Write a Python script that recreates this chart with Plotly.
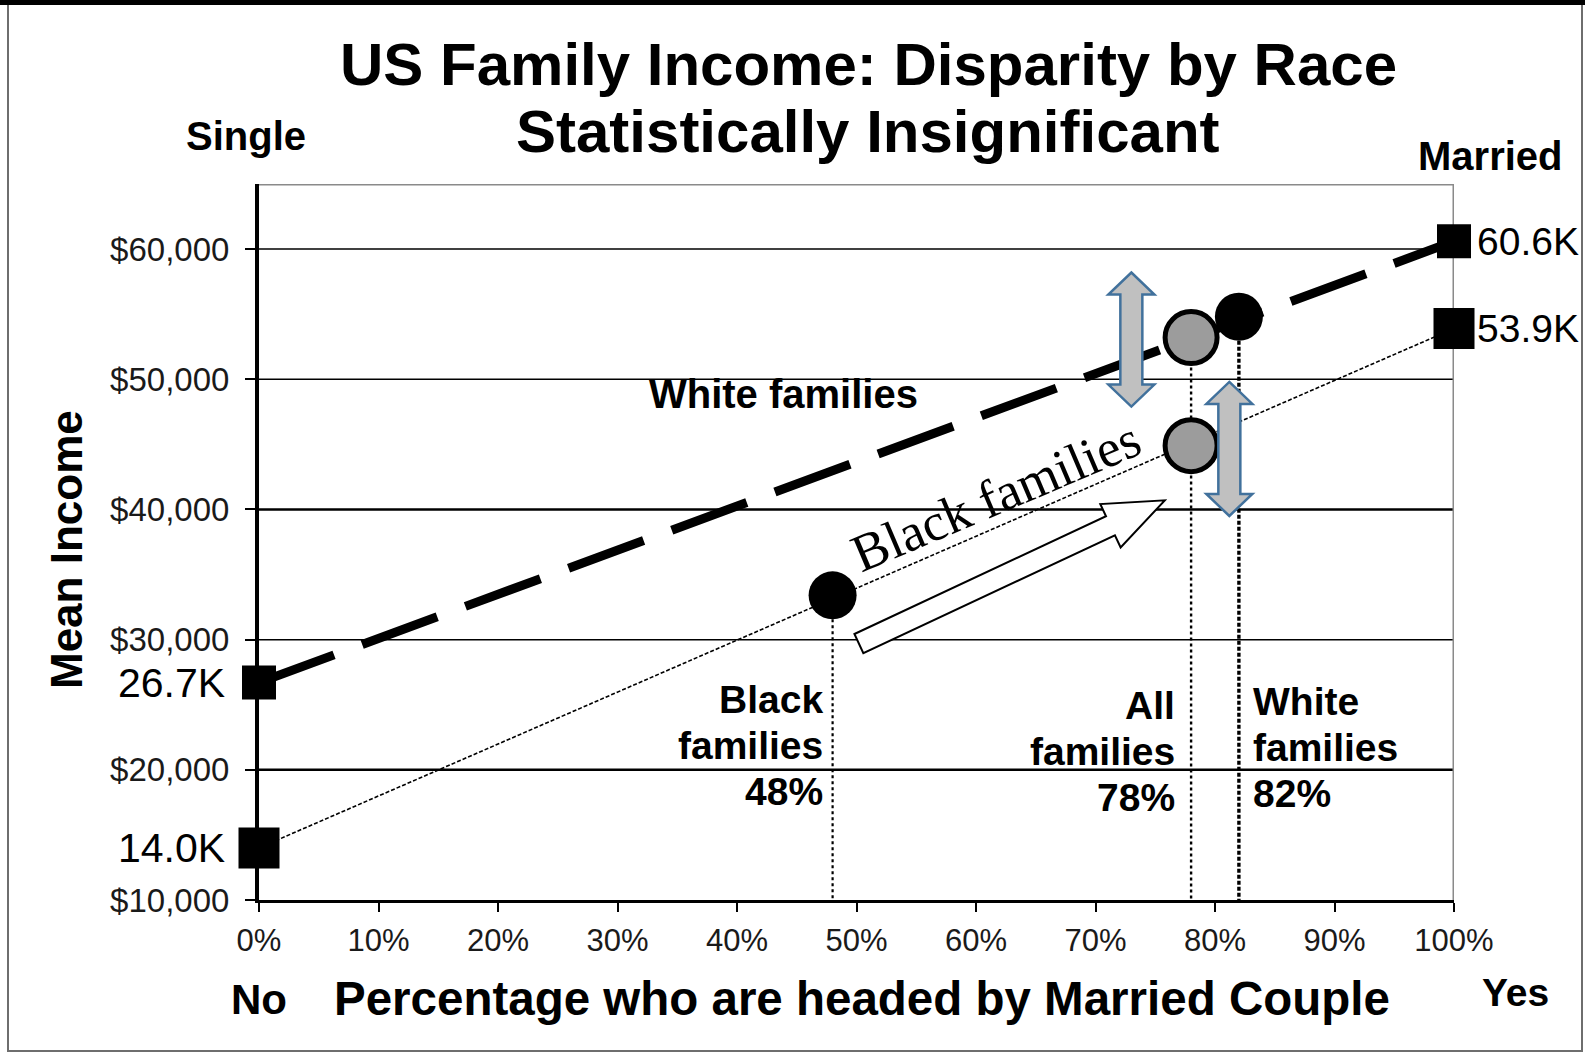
import math
import plotly.graph_objects as go

# ---------------------------------------------------------------- data
# Mean family income at 0% and 100% married-couple share, by race
share_ends = [0, 100]
white_income_ends = [26700, 60600]
black_income_ends = [14000, 53900]

# Married-couple share of each group (%)
group_names = ["Black", "All", "White"]
group_share = [48, 78, 82]

# Group points sitting on the Black-families line (Black, All)
black_pts_x = [48, 78]
black_pts_y = [33400, 44900]
# Group points sitting on the White-families line (All, White)
white_pts_x = [78, 82]
white_pts_y = [53200, 54800]

# Axes
y_ticks = [10000, 20000, 30000, 40000, 50000, 60000]
x_ticks = [0, 10, 20, 30, 40, 50, 60, 70, 80, 90, 100]
y_range = [10000, 65000]
x_range = [0, 100]

# ---------------------------------------------------------------- geometry
W, H = 1585, 1053
ML, MR, MT, MB = 259, 131, 184, 153
PW, PH = W - ML - MR, H - MT - MB
SX = (x_range[1] - x_range[0]) / PW      # data units per pixel (x)
SY = (y_range[1] - y_range[0]) / PH      # data units per pixel (y)


def px(xp):
    return (xp - ML) / PW


def py(yp):
    return (H - MB - yp) / PH


def to_pix(x, y):
    return ML + (x - x_range[0]) / SX, MT + (y_range[1] - y) / SY


def to_data(X, Y):
    return x_range[0] + (X - ML) * SX, y_range[1] - (Y - MT) * SY


SANS = "Liberation Sans, Arial, sans-serif"
SERIF = "Liberation Serif, Times New Roman, serif"

fig = go.Figure()

# dotted drop lines from each group's point to the x axis
drop_tops = [black_pts_y[0], white_pts_y[0], white_pts_y[1]]
drop_styles = [("3px,3px", 2.2), ("3px,3px", 2.4), ("4px,2px", 3.4)]
for xv, top, (dash, wd) in zip(group_share, drop_tops, drop_styles):
    fig.add_trace(go.Scatter(
        x=[xv, xv], y=[top, y_range[0]], mode="lines",
        line=dict(color="black", width=wd, dash=dash),
        hoverinfo="skip", showlegend=False, cliponaxis=False))

# Black families line (thin, short dashes)
fig.add_trace(go.Scatter(
    x=share_ends, y=black_income_ends, mode="lines",
    line=dict(color="black", width=1.6, dash="4px,2px"),
    showlegend=False, cliponaxis=False))

# White families line (heavy, long dashes)
fig.add_trace(go.Scatter(
    x=share_ends, y=white_income_ends, mode="lines",
    line=dict(color="black", width=9, dash="80px,30px"),
    showlegend=False, cliponaxis=False))

# end squares
fig.add_trace(go.Scatter(
    x=share_ends, y=white_income_ends, mode="markers",
    marker=dict(symbol="square", size=34, color="black"),
    showlegend=False, cliponaxis=False))
fig.add_trace(go.Scatter(
    x=share_ends, y=black_income_ends, mode="markers",
    marker=dict(symbol="square", size=41, color="black"),
    showlegend=False, cliponaxis=False))

# group points: black dots for Black / White, grey dots for All families
fig.add_trace(go.Scatter(
    x=[black_pts_x[0], white_pts_x[1]], y=[black_pts_y[0], white_pts_y[1]],
    mode="markers", marker=dict(size=48, color="black"),
    showlegend=False, cliponaxis=False))
fig.add_trace(go.Scatter(
    x=[black_pts_x[1], white_pts_x[0]], y=[black_pts_y[1], white_pts_y[0]],
    mode="markers",
    marker=dict(size=52, color="#9c9c9c", line=dict(color="black", width=5)),
    showlegend=False, cliponaxis=False))

# ---------------------------------------------------------------- shapes
shapes = []

# horizontal gridlines
grid_width = {20000: 2.4, 40000: 2.4}
for v in y_ticks[1:]:
    shapes.append(dict(type="line", xref="x", yref="y", x0=x_range[0], x1=x_range[1],
                       y0=v, y1=v, layer="below",
                       line=dict(color="black", width=grid_width.get(v, 1.5))))

# grey top and right frame of the plot area
shapes.append(dict(type="line", xref="x", yref="y", x0=x_range[0], x1=x_range[1],
                   y0=y_range[1], y1=y_range[1], layer="below",
                   line=dict(color="#8a8a8a", width=3)))
shapes.append(dict(type="line", xref="x", yref="y", x0=x_range[1], x1=x_range[1],
                   y0=y_range[0], y1=y_range[1], layer="below",
                   line=dict(color="#8a8a8a", width=3)))

# outer picture frame
shapes.append(dict(type="rect", xref="paper", yref="paper",
                   x0=px(8), x1=px(1582), y0=py(1051), y1=py(4), layer="below",
                   line=dict(color="#6e6e6e", width=2), fillcolor="rgba(0,0,0,0)"))
shapes.append(dict(type="rect", xref="paper", yref="paper",
                   x0=px(0), x1=px(W), y0=py(5), y1=py(0), layer="above",
                   line=dict(width=0), fillcolor="black"))


def double_arrow(xc, y_top, y_bot, shaft=11, head=23, head_len=22):
    ds, dh, dy = shaft * SX, head * SX, head_len * SY
    pts = [(xc, y_top), (xc + dh, y_top - dy), (xc + ds, y_top - dy),
           (xc + ds, y_bot + dy), (xc + dh, y_bot + dy), (xc, y_bot),
           (xc - dh, y_bot + dy), (xc - ds, y_bot + dy), (xc - ds, y_top - dy),
           (xc - dh, y_top - dy)]
    return "M " + " L ".join(f"{a:.4f},{b:.1f}" for a, b in pts) + " Z"


def block_arrow(tail, tip, half_w=10.5, head_w=24, head_len=60):
    tx, ty = to_pix(*tail)
    hx, hy = to_pix(*tip)
    L = math.hypot(hx - tx, hy - ty)
    ux, uy = (hx - tx) / L, (hy - ty) / L
    nx, ny = uy, -ux
    bx, by = hx - head_len * ux, hy - head_len * uy
    pix = [(tx + half_w * nx, ty + half_w * ny), (bx + half_w * nx, by + half_w * ny),
           (bx + head_w * nx, by + head_w * ny), (hx, hy),
           (bx - head_w * nx, by - head_w * ny), (bx - half_w * nx, by - half_w * ny),
           (tx - half_w * nx, ty - half_w * ny)]
    pts = [to_data(X, Y) for X, Y in pix]
    return "M " + " L ".join(f"{a:.4f},{b:.1f}" for a, b in pts) + " Z"


# gap arrows between the two income lines
for xc, top, bot in [(73.0, 58200, 47900), (81.2, 49800, 39500)]:
    shapes.append(dict(type="path", xref="x", yref="y", path=double_arrow(xc, top, bot),
                       fillcolor="#c0c0c0", line=dict(color="#41719c", width=2.5),
                       layer="above"))

# hollow arrow along the Black families line
shapes.append(dict(type="path", xref="x", yref="y",
                   path=block_arrow((50.2, 29700), (75.8, 40700)),
                   fillcolor="white", line=dict(color="black", width=2), layer="above"))

# ---------------------------------------------------------------- text
ann = []


def text(xp, yp, s, size, bold=False, family=SANS, angle=0, xanchor="center"):
    ann.append(dict(xref="paper", yref="paper", x=px(xp), y=py(yp),
                    text=f"<b>{s}</b>" if bold else s, showarrow=False,
                    xanchor=xanchor, yanchor="middle", textangle=angle,
                    font=dict(family=family, size=size, color="black")))


text(868, 64, "US Family Income: Disparity by Race", 60, bold=True)
text(868, 131, "Statistically Insignificant", 60, bold=True)
text(246, 136, "Single", 40, bold=True)
text(1490, 156, "Married", 40, bold=True)
text(66, 550, "Mean Income", 44, bold=True, angle=-90)
text(259, 1000, "No", 42, bold=True)
text(862, 999, "Percentage who are headed by Married Couple", 47.5, bold=True)
text(1515, 992, "Yes", 39, bold=True)
text(783, 394, "White families", 40, bold=True)
text(996, 496, "Black families", 53, family=SERIF, angle=-23)

# value labels at the line ends
for incomes in (white_income_ends, black_income_ends):
    for xv, v, anchor, shift, size in zip(share_ends, incomes, ["right", "left"],
                                          [-32, 21], [41, 39]):
        ann.append(dict(xref="x", yref="y", x=xv, y=v, text=f"{v / 1000:.1f}K",
                        showarrow=False, xanchor=anchor, yanchor="middle", xshift=shift,
                        font=dict(family=SANS, size=size, color="black")))

# group labels next to the drop lines
label_top = [699, 705, 701]
label_side = [("right", -8), ("right", -14), ("left", 12)]
for name, share, top, (anchor, shift) in zip(group_names, group_share, label_top, label_side):
    for k, line in enumerate([name, "families", f"{share}%"]):
        ann.append(dict(xref="x", yref="paper", x=share, y=py(top + 46 * k),
                        text=f"<b>{line}</b>", showarrow=False, xanchor=anchor,
                        yanchor="middle", xshift=shift,
                        font=dict(family=SANS, size=39, color="black")))

fig.update_layout(
    width=W, height=H, autosize=False,
    margin=dict(l=ML, r=MR, t=MT, b=MB, pad=0),
    paper_bgcolor="white", plot_bgcolor="white",
    showlegend=False, shapes=shapes, annotations=ann,
    xaxis=dict(range=x_range, tickvals=x_ticks, ticktext=[f"{v}%" for v in x_ticks],
               showgrid=False, zeroline=False, showline=True, linecolor="black",
               linewidth=3, ticks="outside", ticklen=9, tickwidth=2, tickcolor="black",
               ticklabelstandoff=2, layer="below traces",
               tickfont=dict(family=SANS, size=31, color="#1a1a1a"), fixedrange=True),
    yaxis=dict(range=y_range, tickvals=y_ticks, ticktext=[f"${v:,}" for v in y_ticks],
               showgrid=False, zeroline=False, showline=True, linecolor="black",
               linewidth=4, ticks="outside", ticklen=10, tickwidth=2, tickcolor="black",
               ticklabelstandoff=9, layer="below traces",
               tickfont=dict(family=SANS, size=33, color="#1a1a1a"), fixedrange=True),
)

fig.write_html("out.html")
